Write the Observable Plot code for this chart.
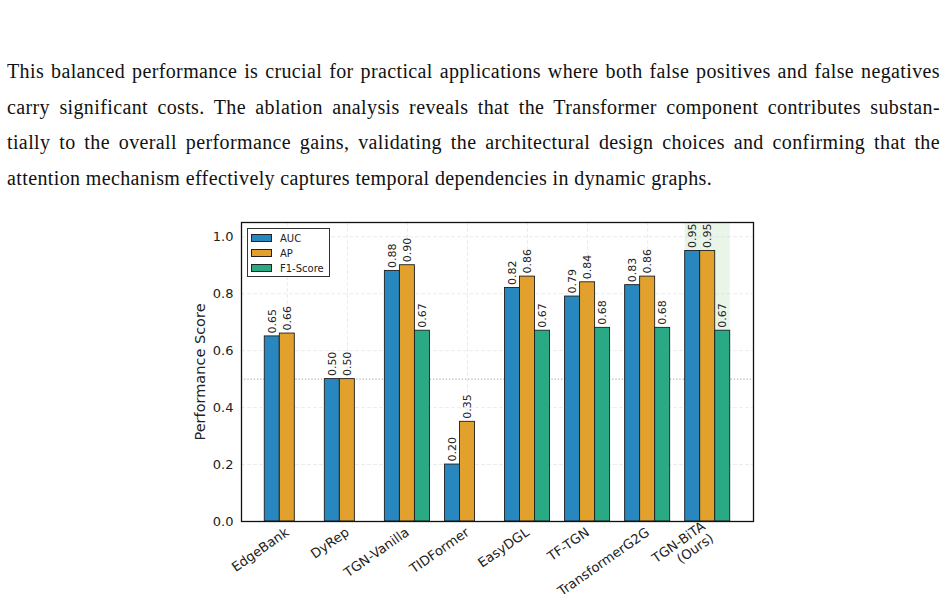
<!DOCTYPE html>
<html>
<head>
<meta charset="utf-8">
<script src="https://cdn.jsdelivr.net/npm/d3@7"></script>
<script src="https://cdn.jsdelivr.net/npm/@observablehq/plot@0.6"></script>
<style>
  body { margin: 0; background: #fff; width: 947px; height: 602px; overflow: hidden; position: relative; }
  #para { position: absolute; left: 7px; top: 54px; width: 933px;
          font-family: "Liberation Serif", "DejaVu Serif", serif; font-size: 20px; letter-spacing: 0.38px;
          line-height: 35.7px; color: #111; }
  #para .ln { text-align: justify; text-align-last: justify; height: 35.7px; overflow: hidden; }
  #para .ln.last { text-align-last: left; }
  #chart { position: absolute; left: 0; top: 200px; }
  #legend { position: absolute; left: 247px; top: 228px; width: 81px; height: 47px; border: 1px solid #333;
            background: #fff; font-family: "DejaVu Sans", sans-serif; font-size: 10px; color: #222; }
  #legend .row { position: absolute; left: 3px; height: 12px; display: flex; align-items: center; }
  #legend .sw { width: 19px; height: 6px; border: 1px solid #222; margin-right: 8px; }
</style>
</head>
<body>
<div id="para"></div>
<div id="chart"></div>
<div id="legend"></div>
<script>
// Paragraph lines as typeset above the figure
const paragraphLines = [
  "This balanced performance is crucial for practical applications where both false positives and false negatives",
  "carry significant costs. The ablation analysis reveals that the Transformer component contributes substan-",
  "tially to the overall performance gains, validating the architectural design choices and confirming that the",
  "attention mechanism effectively captures temporal dependencies in dynamic graphs."
];

// Methods compared, and their scores per metric (null = not reported)
const methods = ["EdgeBank", "DyRep", "TGN-Vanilla", "TIDFormer", "EasyDGL", "TF-TGN", "TransformerG2G", "TGN-BiTA\n(Ours)"];
const metrics = ["AUC", "AP", "F1-Score"];
const aucScores = [0.65, 0.50, 0.88, 0.20, 0.82, 0.79, 0.83, 0.95];
const apScores  = [0.66, 0.50, 0.90, 0.35, 0.86, 0.84, 0.86, 0.95];
const f1Scores  = [null, null, 0.67, null, 0.67, 0.68, 0.68, 0.67];
const metricColors = ["#2887bf", "#e2a12c", "#29aa84"];
const yTicks = [0.0, 0.2, 0.4, 0.6, 0.8, 1.0];
const referenceLevel = 0.5;
const highlightedMethod = 7;

// paragraph
const para = document.getElementById("para");
paragraphLines.forEach((t, i) => {
  const d = document.createElement("div");
  d.className = "ln" + (i === paragraphLines.length - 1 ? " last" : "");
  d.textContent = t;
  para.appendChild(d);
});

// bar rows: three bars per group, each 0.25 wide around the group index
const barWidth = 0.25;
const series = [aucScores, apScores, f1Scores];
const rows = [];
methods.forEach((m, i) => {
  series.forEach((vals, k) => {
    const v = vals[i];
    if (v == null) return;
    const c = i + (k - 1) * barWidth;
    rows.push({method: m, metric: metrics[k], value: v, x1: c - barWidth / 2, x2: c + barWidth / 2, xc: c});
  });
});

const xDomain = [-0.375 - 0.3875, methods.length - 1 + 0.375 + 0.3875];
const yMax = 1.05;
const groupIdx = d3.range(methods.length);

const chart = Plot.plot({
  width: 947,
  height: 402,
  marginLeft: 241,
  marginRight: 194,
  marginTop: 22,
  marginBottom: 81,
  style: {fontFamily: "DejaVu Sans, sans-serif", background: "transparent", color: "#222"},
  x: {domain: xDomain, label: null},
  y: {domain: [0, yMax], label: null},
  color: {domain: metrics, range: metricColors},
  marks: [
    // shaded band behind the proposed method
    Plot.rect([highlightedMethod], {x1: i => i - 1.5 * barWidth, x2: i => i + 1.5 * barWidth, y1: 0, y2: yMax,
      fill: "#2ca02c", fillOpacity: 0.1}),
    Plot.gridY(yTicks.slice(1), {stroke: "#d4d4d4", strokeOpacity: 0.45, strokeDasharray: "4,2"}),
    Plot.gridX(groupIdx, {stroke: "#d4d4d4", strokeOpacity: 0.45, strokeDasharray: "4,2"}),
    Plot.ruleY([referenceLevel], {stroke: "#9a9a9a", strokeWidth: 1, strokeDasharray: "1.2,2"}),
    Plot.rect(rows, {x1: "x1", x2: "x2", y1: 0, y2: "value", fill: "metric", stroke: "#1e1e1e", strokeWidth: 0.9}),
    Plot.text(rows, {x: "xc", y: "value", text: d => d.value.toFixed(2), rotate: -90, textAnchor: "start",
      dy: -3, fontSize: 11, fill: "#222"}),
    Plot.frame({stroke: "#111", strokeWidth: 1.3}),
    Plot.axisY({ticks: yTicks, tickFormat: d3.format(".1f"), tickSize: 0, tickPadding: 8, fontSize: 13, label: null}),
    Plot.axisX({ticks: groupIdx, tickFormat: i => methods[i], tickSize: 0, tickPadding: 9, tickRotate: -35,
      fontSize: 13.2, lineHeight: 1.1, label: null}),
    Plot.text(["Performance Score"], {frameAnchor: "left", dx: -41, rotate: -90, textAnchor: "middle",
      fontSize: 14.5, fill: "#222"})
  ]
});
document.getElementById("chart").appendChild(chart);

// legend
const legend = document.getElementById("legend");
metrics.forEach((m, k) => {
  const r = document.createElement("div");
  r.className = "row";
  r.style.top = (3 + k * 15) + "px";
  const sw = document.createElement("div");
  sw.className = "sw";
  sw.style.background = metricColors[k];
  const t = document.createElement("span");
  t.textContent = m;
  r.appendChild(sw);
  r.appendChild(t);
  legend.appendChild(r);
});
</script>
</body>
</html>
